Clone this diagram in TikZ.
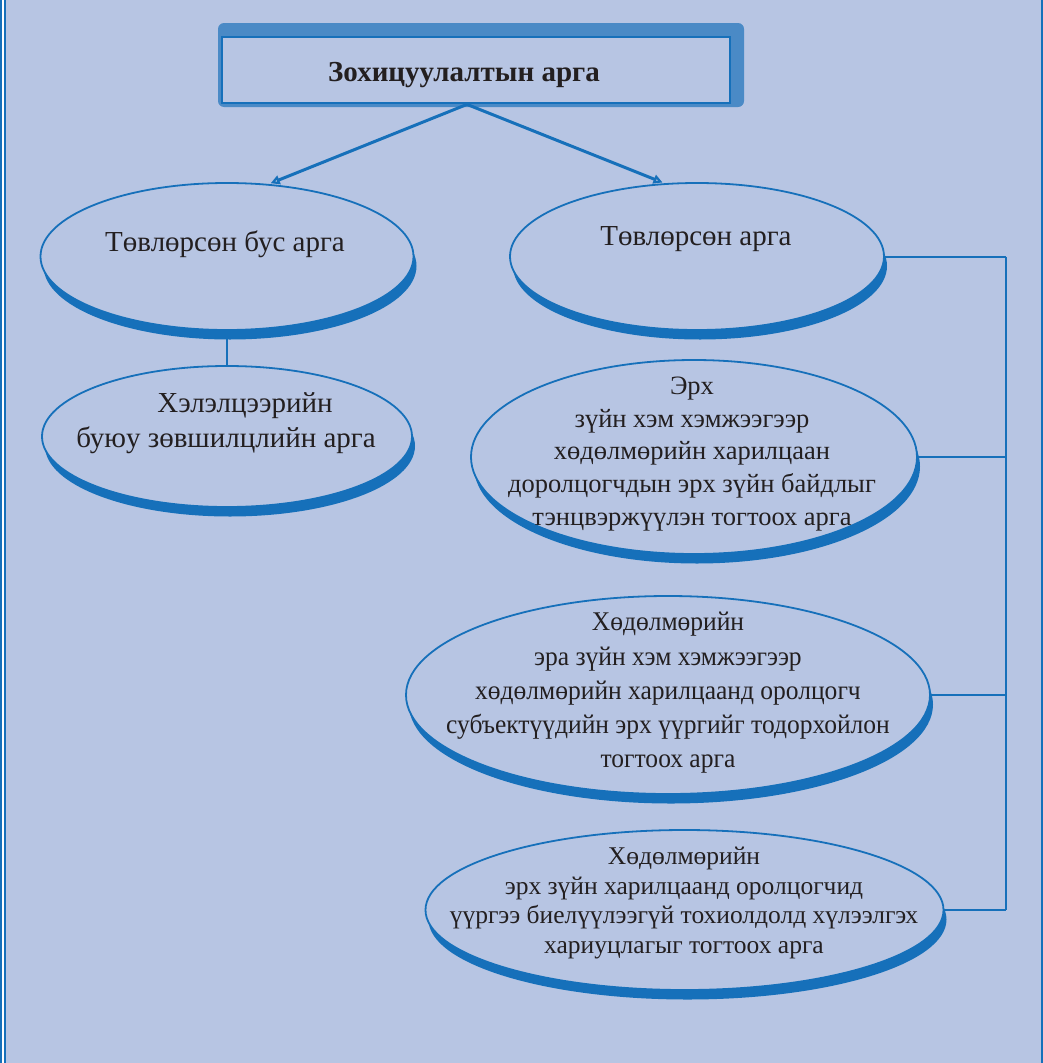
\documentclass[tikz,border=0pt]{standalone}
\usepackage{fontspec}
\setmainfont{Liberation Serif}
\newfontfamily\condserif[FakeStretch=0.945]{Liberation Serif}
\usetikzlibrary{shapes.geometric,shadows,arrows.meta}
\definecolor{bg}{HTML}{B7C5E3}
\definecolor{lineblue}{HTML}{1670BA}
\definecolor{boxblue}{HTML}{4A8AC6}
\definecolor{ink}{HTML}{231F20}
\begin{document}
\begin{tikzpicture}[x=1pt,y=-1pt,
  blob/.style={ellipse, draw=lineblue, line width=1.8pt, fill=bg, inner sep=0pt,
     drop shadow={shadow xshift=3pt, shadow yshift=-9.5pt, fill=lineblue, opacity=1}},
  txt/.style={align=center, inner sep=0pt, text=ink},
  conn/.style={draw=lineblue, line width=2pt},
  arr/.style={draw=lineblue, line width=3pt, shorten >=2pt,
     -{Triangle[open, length=9pt, width=9pt, line width=2.2pt]}}
]
\useasboundingbox (0,0) rectangle (1043,1063);
\fill[bg] (0,0) rectangle (1043,1063);
% page border
\fill[lineblue] (0,0) rectangle (1.7,1063);
\fill[white] (1.7,0) rectangle (3.6,1063);
\fill[lineblue] (3.6,0) rectangle (5.6,1063);
\fill[lineblue] (1041,0) rectangle (1043,1063);

% title
\node[fill=boxblue, rounded corners=6pt, minimum width=526pt, minimum height=84pt, inner sep=0pt] (titleback) at (481,65) {};
\node[draw=lineblue, line width=2.8pt, fill=bg, minimum width=508pt, minimum height=66pt, inner sep=0pt] (title) at (476,70) {};
\node[txt, font=\fontsize{29}{33}\selectfont\bfseries] (titletext) at (464,75.5) {Зохицуулалтын арга};

% ellipses
\node[blob, minimum width=373pt, minimum height=147pt] (L1) at (227,256.5) {};
\node[blob, minimum width=370pt, minimum height=141pt] (L2) at (227,436.5) {};
\node[blob, minimum width=374pt, minimum height=147pt] (R1) at (697,256.5) {};
\node[blob, minimum width=446pt, minimum height=194pt] (R2) at (694,457) {};
\node[blob, minimum width=524pt, minimum height=198pt] (R3) at (668,695) {};
\node[blob, minimum width=518pt, minimum height=160pt] (R4) at (684.5,910) {};

% texts
\node[txt, font=\fontsize{29}{33}\selectfont] (L1t) at (225,244.5) {Төвлөрсөн бус арга};
\node[txt, font=\fontsize{29}{35}\selectfont] (L2t) at (226,423) {\hspace*{38pt}Хэлэлцээрийн\\буюу зөвшилцлийн арга};
\node[txt, font=\fontsize{29}{33}\selectfont] (R1t) at (696,239.5) {Төвлөрсөн арга};
\node[txt, font=\fontsize{26.5}{32.75}\selectfont] (R2t) at (692,454) {Эрх\\зүйн хэм хэмжээгээр\\хөдөлмөрийн харилцаан\\доролцогчдын эрх зүйн байдлыг\\тэнцвэржүүлэн тогтоох арга};
\node[txt, font=\condserif\fontsize{27}{34.2}\selectfont] (R3t) at (668,693) {Хөдөлмөрийн\\эра зүйн хэм хэмжээгээр\\хөдөлмөрийн харилцаанд оролцогч\\субъектүүдийн эрх үүргийг тодорхойлон\\тогтоох арга};
\node[txt, font=\fontsize{25.5}{29.5}\selectfont] (R4t) at (684,903) {Хөдөлмөрийн\\эрх зүйн харилцаанд оролцогчид\\үүргээ биелүүлээгүй тохиолдолд хүлээлгэх\\хариуцлагыг тогтоох арга};

% arrows from title
\draw[arr] ([xshift=-9pt]title.south) -- (L1.60);
\draw[arr] ([xshift=-9pt]title.south) -- (R1.114);

% left connector
\draw[conn] (L1.south) -- (L2.north);

% right bracket
\coordinate (bt) at (1006,257);
\draw[conn] (R1.east) -- (R1.east -| bt);
\draw[conn] (R2.east) -- (R2.east -| bt);
\draw[conn] (R3.east) -- (R3.east -| bt);
\draw[conn] (R4.east) -- (R4.east -| bt);
\draw[conn] (R1.east -| bt) -- (R4.east -| bt);
\end{tikzpicture}
\end{document}
